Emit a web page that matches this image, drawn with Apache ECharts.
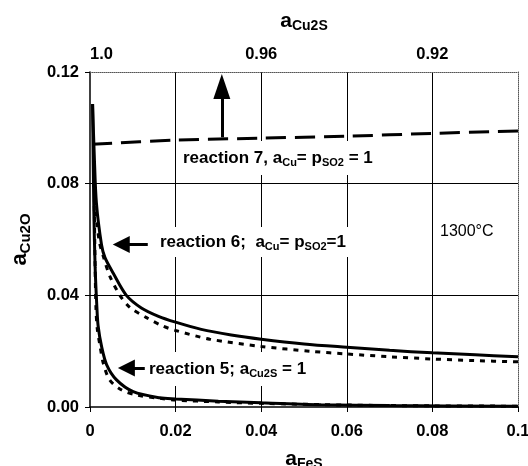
<!DOCTYPE html>
<html>
<head>
<meta charset="utf-8">
<script src="https://cdn.jsdelivr.net/npm/echarts@6/dist/echarts.min.js"></script>
<style>
html, body { margin: 0; padding: 0; background: #fff; }
#chart1 { width: 528px; height: 466px; }
</style>
</head>
<body>
<div id="chart1"></div>
<script>
// tick labels
var xTickLabels = ['0', '0.02', '0.04', '0.06', '0.08', '0.1'];
var yTickLabels = ['0.00', '0.04', '0.08', '0.12'];
var topTickLabels = ['1.0', '0.96', '0.92'];

// [aFeS, aCu2O]
var reaction7 = [[0.0005, 0.0941], [0.02, 0.0956], [0.04, 0.0963], [0.06, 0.0970], [0.08, 0.0980], [0.1, 0.0989]];

var reaction6Solid = [[0.0006, 0.1085], [0.0010, 0.090], [0.0015, 0.073], [0.0027, 0.058], [0.0035, 0.0535],
	[0.0054, 0.048], [0.0085, 0.040], [0.012, 0.0355], [0.016, 0.0325], [0.02, 0.0304], [0.026, 0.0278],
	[0.033, 0.0258], [0.04, 0.0243], [0.05, 0.0226], [0.06, 0.0214], [0.07, 0.0203], [0.08, 0.0194],
	[0.09, 0.0187], [0.1, 0.0180]];

var reaction6Dotted = [[0.0010, 0.074], [0.0016, 0.066], [0.0022, 0.059], [0.0032, 0.0535], [0.0046, 0.047],
	[0.007, 0.040], [0.0093, 0.0357], [0.0132, 0.032], [0.017, 0.029], [0.02, 0.0274], [0.028, 0.0243],
	[0.04, 0.0217], [0.052, 0.0199], [0.06, 0.0190], [0.07, 0.0180], [0.08, 0.0172], [0.09, 0.0166], [0.1, 0.0162]];

var reaction5Solid = [[0.0006, 0.1085], [0.0009, 0.070], [0.0012, 0.050], [0.0016, 0.036], [0.0019, 0.029],
	[0.0027, 0.0217], [0.0039, 0.0151], [0.0062, 0.0097], [0.0101, 0.0055], [0.0163, 0.0033], [0.02, 0.0029],
	[0.03, 0.0021], [0.04, 0.0015], [0.054, 0.0008], [0.07, 0.0005], [0.1, 0.0003]];

var reaction5Dotted = [[0.0010, 0.072], [0.0012, 0.050], [0.0014, 0.035], [0.0017, 0.028], [0.0023, 0.0223],
	[0.0031, 0.0157], [0.0046, 0.0097], [0.0074, 0.0061], [0.0109, 0.0043], [0.0163, 0.0031], [0.02, 0.0025],
	[0.03, 0.0018], [0.04, 0.0013], [0.06, 0.0007], [0.08, 0.0004], [0.1, 0.0003]];

var FONT = "'Liberation Sans', Arial, Helvetica, sans-serif";

function nameRich(big, small, lh) {
	return {
		a: { fontFamily: FONT, fontWeight: 'bold', fontSize: big, color: '#000', lineHeight: lh, verticalAlign: 'middle' },
		s: { fontFamily: FONT, fontWeight: 'bold', fontSize: small, color: '#000', verticalAlign: 'bottom' }
	};
}

var annoRich = {
	t: { fontFamily: FONT, fontWeight: 'bold', fontSize: 17, color: '#000', lineHeight: 20, verticalAlign: 'middle' },
	s: { fontFamily: FONT, fontWeight: 'bold', fontSize: 11, color: '#000', verticalAlign: 'bottom' }
};

function curve(name, data, type, width) {
	return {
		name: name,
		type: 'line',
		data: data,
		showSymbol: false,
		smooth: 0.3,
		silent: true,
		z: 3,
		lineStyle: { color: '#000', width: width, type: type, cap: 'butt' }
	};
}

function arrow(from, to, size) {
	return [{ coord: from, symbol: 'none' }, { coord: to, symbol: 'triangle', symbolSize: size }];
}

function chart1() {
	var myChart = echarts.init(document.getElementById('chart1'));
	var labelStyle = { fontFamily: FONT, fontWeight: 'bold', fontSize: 16.5, color: '#000' };

	var r7 = curve('reaction 7', reaction7, [20, 9], 3);
	r7.markLine = {
		silent: true,
		animation: false,
		label: { show: false },
		lineStyle: { color: '#000', width: 3, type: 'solid' },
		data: [
			arrow([0.0308, 0.0966], [0.0308, 0.1148], [17, 25]),
			arrow([0.0135, 0.0582], [0.0073, 0.0582], [17, 17]),
			arrow([0.0128, 0.0140], [0.0085, 0.0140], [17, 17])
		]
	};

	var option = {
		animation: false,
		backgroundColor: '#fff',
		grid: { left: 90, right: 10, top: 72, bottom: 59, containLabel: false, outerBoundsMode: 'none' },
		xAxis: [{
			type: 'value',
			position: 'bottom',
			min: 0,
			max: 0.1,
			interval: 0.02,
			name: '{a|a}{s|FeS}',
			nameLocation: 'middle',
			nameGap: 40,
			nameTextStyle: { rich: nameRich(21, 14, 24) },
			axisLine: { onZero: false, lineStyle: { color: '#000', width: 1.5 } },
			axisTick: { show: true, length: 5, lineStyle: { color: '#000', width: 1 } },
			axisLabel: Object.assign({
				margin: 16,
				showMaxLabel: true,
				formatter: function(v, i) { return xTickLabels[i] || ''; }
			}, labelStyle),
			splitLine: { show: true, showMinLine: false, showMaxLine: false, lineStyle: { color: '#000', width: 1 } }
		}, {
			type: 'value',
			position: 'top',
			min: 0,
			max: 0.1,
			interval: 0.04,
			name: '{a|a}{s|Cu2S}',
			nameLocation: 'middle',
			nameGap: 39,
			nameTextStyle: { rich: nameRich(21, 14, 24) },
			axisLine: { onZero: false, lineStyle: { color: '#555', width: 1, type: [1, 1] } },
			axisTick: { show: false },
			axisLabel: Object.assign({
				margin: 9,
				showMaxLabel: false,
				alignMinLabel: 'left',
				formatter: function(v, i) { return topTickLabels[i] || ''; }
			}, labelStyle),
			splitLine: { show: false }
		}],
		yAxis: [{
			type: 'value',
			position: 'left',
			min: 0,
			max: 0.12,
			interval: 0.04,
			name: '{a|a}{s|Cu2O}',
			nameLocation: 'middle',
			nameRotate: 90,
			nameGap: 57,
			nameTextStyle: { rich: nameRich(22, 15, 26) },
			axisLine: { onZero: false, lineStyle: { color: '#000', width: 1.5 } },
			axisTick: { show: true, length: 5, lineStyle: { color: '#000', width: 1 } },
			axisLabel: Object.assign({
				margin: 11,
				formatter: function(v, i) { return yTickLabels[i] || ''; }
			}, labelStyle),
			splitLine: { show: true, showMinLine: false, showMaxLine: false, lineStyle: { color: '#000', width: 1 } }
		}, {
			type: 'value',
			position: 'right',
			min: 0,
			max: 0.12,
			interval: 0.04,
			axisLine: { show: true, onZero: false, lineStyle: { color: '#555', width: 1, type: [1, 1] } },
			axisTick: { show: false },
			axisLabel: { show: false },
			splitLine: { show: false }
		}],
		graphic: [{
			type: 'text',
			x: 177, y: 158, z: 1,
			style: {
				text: '{t|reaction 7, a}{s|Cu}{t|= p}{s|SO2}{t| = 1}',
				rich: annoRich, verticalAlign: 'middle',
				backgroundColor: '#fff', padding: [7, 6, 7, 6]
			}
		}, {
			type: 'text',
			x: 154, y: 242, z: 1,
			style: {
				text: '{t|reaction 6;  a}{s|Cu}{t|= p}{s|SO2}{t|=1}',
				rich: annoRich, verticalAlign: 'middle',
				backgroundColor: '#fff', padding: [5, 10, 5, 6]
			}
		}, {
			type: 'text',
			x: 143, y: 369, z: 1,
			style: {
				text: '{t|reaction 5; a}{s|Cu2S}{t| = 1}',
				rich: annoRich, verticalAlign: 'middle',
				backgroundColor: '#fff', padding: [7, 6, 7, 6]
			}
		}, {
			type: 'text',
			x: 440, y: 232, z: 1,
			style: {
				text: '1300°C',
				fontFamily: FONT, fontSize: 16, fill: '#000', verticalAlign: 'middle'
			}
		}],
		series: [
			r7,
			curve('reaction 6', reaction6Solid, 'solid', 3),
			curve('reaction 6 model', reaction6Dotted, [5, 6], 3),
			curve('reaction 5', reaction5Solid, 'solid', 3),
			curve('reaction 5 model', reaction5Dotted, [5, 6], 3)
		]
	};

	myChart.setOption(option);
}

chart1();
</script>
</body>
</html>
